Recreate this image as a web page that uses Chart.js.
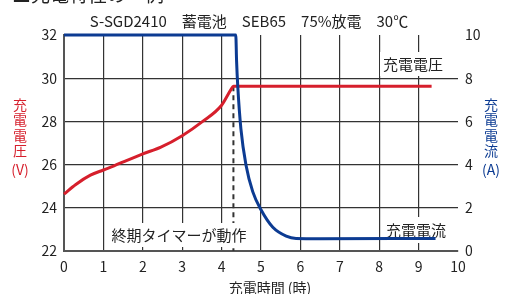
<!DOCTYPE html>
<html lang="ja">
<head>
<meta charset="utf-8">
<script src="https://cdn.jsdelivr.net/npm/chart.js@4.4.1/dist/chart.umd.min.js"></script>
<style>
  html, body { margin: 0; padding: 0; background: #fff; }
  #wrap { position: relative; width: 505px; height: 294px; overflow: hidden; }
</style>
</head>
<body>
<div id="wrap"><canvas id="chargeChart" width="505" height="294"></canvas></div>
<script>
// 充電特性 S-SGD2410 蓄電池

// 充電電圧 (V)
const voltHours  = [0, 0.3, 0.67, 1.0, 1.27, 1.6, 2.0, 2.46, 3.0, 3.52, 4.0, 4.24, 4.3, 9.33];
const voltValues = [24.63, 25.08, 25.51, 25.75, 25.94, 26.2, 26.5, 26.81, 27.34, 28.0, 28.75, 29.48, 29.63, 29.63];

// 充電電流 (A)
const ampHours  = [0, 4.36, 4.38, 4.41, 4.49, 4.62, 4.79, 5.0, 5.3, 5.64, 5.89, 6.5, 9.43];
const ampValues = [10, 10, 8.8, 7.63, 5.65, 3.97, 2.75, 1.91, 1.1, 0.69, 0.58, 0.57, 0.58];

// 終期タイマー
const timerHours = [4.3, 4.3];
const timerVolts = [29.63, 22];

// 目盛り
const hourTicks = [0, 1, 2, 3, 4, 5, 6, 7, 8, 9, 10];
const voltTicks = [22, 24, 26, 28, 30, 32];
const ampTicks  = [0, 2, 4, 6, 8, 10];

const FONT = '"Noto Sans CJK JP", "Noto Sans", sans-serif';
const RED = '#d61f2c';
const BLUE = '#0c3b92';
const GRID = '#333333';

Chart.defaults.font.family = FONT;
Chart.defaults.font.size = 14;
Chart.defaults.color = '#222';

function toPoints(xs, ys) {
    return xs.map((x, i) => ({ x: x, y: ys[i] }));
}

// 白地ラベル
function boxLabel(ctx, text, cx, cy, w, h) {
    ctx.save();
    ctx.fillStyle = '#fff';
    ctx.fillRect(cx - w / 2, cy - h / 2, w, h);
    ctx.fillStyle = '#222';
    ctx.font = '15px ' + FONT;
    ctx.textAlign = 'center';
    ctx.textBaseline = 'middle';
    ctx.fillText(text, cx, cy);
    ctx.restore();
}

function stackText(ctx, chars, cx, ys, color) {
    ctx.save();
    ctx.fillStyle = color;
    ctx.font = '14px ' + FONT;
    ctx.textAlign = 'center';
    ctx.textBaseline = 'middle';
    chars.forEach((c, i) => ctx.fillText(c, cx, ys[i]));
    ctx.restore();
}

const textPlugin = {
    id: 'texts',
    beforeDatasetsDraw(chart) {
        const ctx = chart.ctx;
        boxLabel(ctx, '充電電圧', 413, 64, 66, 24);
        boxLabel(ctx, '充電電流', 416, 230, 66, 26);
    },
    afterDatasetsDraw(chart) {
        boxLabel(chart.ctx, '終期タイマーが動作', 179, 235, 146, 24);
    },
    afterDraw(chart) {
        const ctx = chart.ctx;
        ctx.save();
        ctx.fillStyle = '#222';
        ctx.font = '19px ' + FONT;
        ctx.textBaseline = 'alphabetic';
        ctx.fillText('■充電特性の一例', 12, 2);
        ctx.font = '15px ' + FONT;
        ctx.textAlign = 'center';
        ctx.textBaseline = 'middle';
        ctx.fillText('S-SGD2410　蓄電池　SEB65　75%放電　30℃', 249, 21);
        ctx.font = '14px ' + FONT;
        ctx.fillText('充電時間 (時)', 270, 288);
        ctx.restore();
        const ys = [105, 120, 136, 151, 170];
        stackText(ctx, ['充', '電', '電', '圧', '(V)'], 20, ys, RED);
        stackText(ctx, ['充', '電', '電', '流', '(A)'], 491, ys, BLUE);
    }
};

new Chart(document.getElementById('chargeChart'), {
    type: 'line',
    data: {
        datasets: [{
            label: '充電電流',
            data: toPoints(ampHours, ampValues),
            yAxisID: 'y1',
            borderColor: BLUE,
            borderWidth: 3,
            pointRadius: 0,
            cubicInterpolationMode: 'monotone',
            clip: false
        }, {
            label: '充電電圧',
            data: toPoints(voltHours, voltValues),
            yAxisID: 'y',
            borderColor: RED,
            borderWidth: 3,
            pointRadius: 0,
            cubicInterpolationMode: 'monotone',
            clip: false
        }, {
            label: '終期タイマー',
            data: toPoints(timerHours, timerVolts),
            yAxisID: 'y',
            borderColor: '#333',
            borderWidth: 2,
            borderDash: [5, 4],
            pointRadius: 0,
            tension: 0
        }]
    },
    options: {
        responsive: false,
        animation: false,
        layout: { padding: { top: 35, left: 0, right: 0, bottom: 0 } },
        plugins: {
            legend: { display: false },
            tooltip: { enabled: false },
            title: { display: false }
        },
        scales: {
            x: {
                type: 'linear',
                min: 0,
                max: 10,
                afterBuildTicks: s => { s.ticks = hourTicks.map(v => ({ value: v })); },
                afterFit: s => { s.height = 43; },
                grid: {
                    color: c => (c.tick && c.tick.value === 10) ? 'rgba(0,0,0,0)' : GRID,
                    lineWidth: 1.2,
                    drawTicks: false
                },
                border: { display: true, color: '#555', width: 2 },
                ticks: { padding: 7, maxRotation: 0, autoSkip: false }
            },
            y: {
                position: 'left',
                min: 22,
                max: 32,
                afterBuildTicks: s => { s.ticks = voltTicks.map(v => ({ value: v })); },
                afterFit: s => { s.width = 64; },
                grid: {
                    color: c => (c.tick && c.tick.value === 32) ? 'rgba(0,0,0,0)' : GRID,
                    lineWidth: 1.2,
                    drawTicks: false
                },
                border: { display: true, color: '#555', width: 2 },
                ticks: { padding: 7 }
            },
            y1: {
                position: 'right',
                min: 0,
                max: 10,
                afterBuildTicks: s => { s.ticks = ampTicks.map(v => ({ value: v })); },
                afterFit: s => { s.width = 47; },
                grid: { drawOnChartArea: false, drawTicks: false },
                border: { display: false },
                ticks: { padding: 7 }
            }
        }
    },
    plugins: [textPlugin]
});
</script>
</body>
</html>
